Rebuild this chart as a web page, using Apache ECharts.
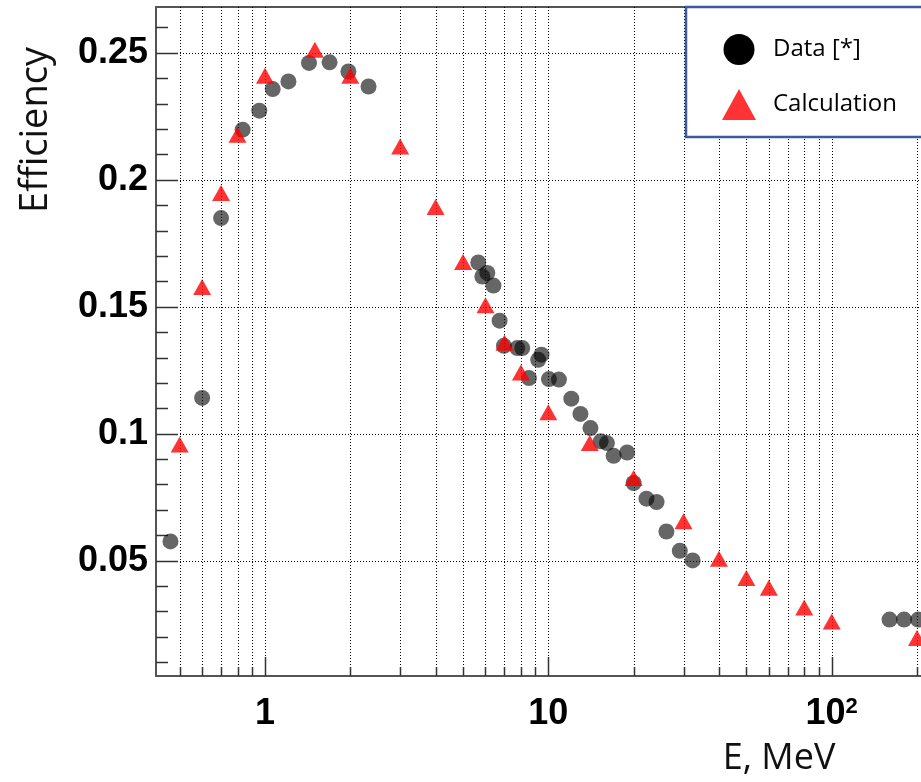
<!DOCTYPE html>
<html>
<head>
<meta charset="utf-8">
<script src="https://cdn.jsdelivr.net/npm/echarts@6/dist/echarts.min.js"></script>
<style>
  html, body { margin: 0; padding: 0; background: #fff; }
  #main { width: 921px; height: 782px; }
</style>
</head>
<body>
<div id="main"></div>
<script>
// measured data (circles)
var dataE = [0.464, 0.6, 0.7, 0.834, 0.955, 1.065, 1.21, 1.43, 1.69, 1.97, 2.32,
  5.66, 5.85, 6.09, 6.4, 6.73, 6.97, 7.77, 8.09, 8.54, 9.21, 9.46, 10.05, 10.9,
  12.05, 12.98, 14.08, 15.3, 16.1, 17.0, 18.97, 20.0, 22.2, 24.1, 26.1, 29.1, 32.3,
  160, 180, 202];
var dataEff = [0.0576, 0.1141, 0.1849, 0.2197, 0.2272, 0.2357, 0.2387, 0.2460, 0.2462, 0.2426, 0.2367,
  0.1674, 0.1619, 0.1633, 0.1583, 0.1445, 0.1346, 0.1337, 0.1337, 0.1219, 0.1291, 0.1311, 0.1215, 0.1213,
  0.1138, 0.1078, 0.1022, 0.0970, 0.0963, 0.0913, 0.0926, 0.0806, 0.0744, 0.0731, 0.0615, 0.0539, 0.0501,
  0.0268, 0.0268, 0.0268];

// calculation (triangles)
var calcE = [0.5, 0.6, 0.7, 0.8, 1, 1.5, 2, 3, 4, 5, 6, 7, 8, 10, 14, 20, 30, 40, 50, 60, 80, 100, 200];
var calcEff = [0.0957, 0.1578, 0.1948, 0.2177, 0.2409, 0.2512, 0.2409, 0.2131, 0.1893, 0.1676, 0.1506,
  0.1358, 0.1241, 0.1084, 0.0963, 0.0826, 0.0655, 0.0508, 0.0432, 0.0393, 0.0316, 0.0261, 0.0196];

// axes
var xMin = 0.4125, xMax = 206.6;
var yMin = 0.0046, yMax = 0.268;
var xGridValues = [0.5, 0.6, 0.7, 0.8, 0.9, 1, 2, 3, 4, 5, 6, 7, 8, 9, 10,
  20, 30, 40, 50, 60, 70, 80, 90, 100, 200];
var xLabelValues = [1, 10, 100];
var yTickValues = [0.01, 0.02, 0.03, 0.04, 0.05, 0.06, 0.07, 0.08, 0.09, 0.1,
  0.11, 0.12, 0.13, 0.14, 0.15, 0.16, 0.17, 0.18, 0.19, 0.2,
  0.21, 0.22, 0.23, 0.24, 0.25, 0.26];
var yLabelValues = [0.05, 0.1, 0.15, 0.2, 0.25];

var chart = echarts.init(document.getElementById('main'));

function isMajorY(v) {
  return yLabelValues.some(function (m) { return Math.abs(m - v) < 1e-9; });
}

// vertical dotted grid + bottom ticks
function renderXGrid(params, api) {
  var v = api.value(0);
  var cs = params.coordSys;
  var x = Math.round(api.coord([v, yMin])[0]) + 0.5;
  var bottom = cs.y + cs.height;
  var major = xLabelValues.indexOf(v) >= 0;
  return {
    type: 'group',
    children: [
      { type: 'line', shape: { x1: x, y1: cs.y, x2: x, y2: bottom },
        style: { stroke: '#000', lineWidth: 1, lineDash: [1, 2] } },
      { type: 'line', shape: { x1: x, y1: bottom, x2: x, y2: bottom - (major ? 19 : 9) },
        style: { stroke: '#333', lineWidth: 1.5 } }
    ]
  };
}

// horizontal dotted grid + left ticks
function renderYGrid(params, api) {
  var v = api.value(1);
  var cs = params.coordSys;
  var y = Math.round(api.coord([1, v])[1]) + 0.5;
  var major = isMajorY(v);
  var children = [
    { type: 'line', shape: { x1: cs.x, y1: y, x2: cs.x + (major ? 22 : 12), y2: y },
      style: { stroke: '#333', lineWidth: 1.5 } }
  ];
  if (major) {
    children.unshift({ type: 'line', shape: { x1: cs.x, y1: y, x2: cs.x + cs.width, y2: y },
      style: { stroke: '#000', lineWidth: 1, lineDash: [1, 2] } });
  }
  return { type: 'group', children: children };
}

var axisLineStyle = { show: true, lineStyle: { color: '#555', width: 2 } };

var option = {
  animation: false,
  backgroundColor: '#fff',
  grid: {
    left: 156, top: 7, right: 0, bottom: 106
  },
  legend: {
    orient: 'vertical',
    left: 686, top: 7,
    padding: [27, 90, 17, 36],
    itemWidth: 34, itemHeight: 31, itemGap: 24,
    backgroundColor: '#fff',
    borderColor: '#3c5a9c', borderWidth: 2.5,
    textStyle: { fontSize: 24, fontFamily: 'Open Sans', color: '#000', padding: [0, 0, 0, 12] },
    data: [
      { name: 'Data [*]', icon: 'circle', itemStyle: { color: '#000', opacity: 1 } },
      { name: 'Calculation', icon: 'triangle', itemStyle: { color: '#ff0000' } }
    ]
  },
  xAxis: [{
    type: 'log', logBase: 10, min: xMin, max: xMax,
    axisLine: axisLineStyle, axisTick: { show: false },
    splitLine: { show: false }, minorTick: { show: false }, minorSplitLine: { show: false },
    axisLabel: {
      customValues: xLabelValues,
      margin: 20,
      fontFamily: 'Liberation Sans', fontWeight: 'bold', fontSize: 36, color: '#000',
      formatter: function (v) {
        var p = Math.round(Math.log10(v));
        if (p < 2) return String(Math.round(v));
        return '{b|10}{s|' + p + '}';
      },
      rich: {
        b: { fontFamily: 'Liberation Sans', fontWeight: 'bold', fontSize: 36, color: '#000' },
        s: { fontFamily: 'Liberation Sans', fontWeight: 'bold', fontSize: 22, color: '#000',
          verticalAlign: 'top', padding: [0, 0, 10, 0] }
      }
    }
  }, {
    // top frame line only
    type: 'value', position: 'top', min: 0, max: 1,
    axisLine: axisLineStyle, axisTick: { show: false },
    axisLabel: { show: false }, splitLine: { show: false }
  }],
  yAxis: {
    type: 'value', min: yMin, max: yMax,
    axisLine: axisLineStyle, axisTick: { show: false }, splitLine: { show: false },
    axisLabel: {
      customValues: yLabelValues,
      margin: 8,
      fontFamily: 'Liberation Sans', fontWeight: 'bold', fontSize: 36, color: '#000',
      formatter: function (v) { return String(+v.toFixed(2)); }
    }
  },
  graphic: [
    { type: 'text', x: 36, y: 130, rotation: Math.PI / 2,
      style: { text: 'Efficiency', fontSize: 38, fontFamily: 'Open Sans', fill: '#111',
        align: 'center', verticalAlign: 'middle' } },
    { type: 'text', x: 779, y: 759,
      style: { text: 'E, MeV', fontSize: 36, fontFamily: 'Open Sans', fill: '#111',
        align: 'center', verticalAlign: 'middle' } }
  ],
  series: [
    {
      type: 'custom', name: 'xgrid', silent: true, z: 1,
      renderItem: renderXGrid,
      data: xGridValues.map(function (v) { return [v, yMin]; })
    },
    {
      type: 'custom', name: 'ygrid', silent: true, z: 1,
      renderItem: renderYGrid,
      data: yTickValues.map(function (v) { return [1, v]; })
    },
    {
      name: 'Data [*]', type: 'scatter', z: 3,
      symbol: 'circle', symbolSize: 16,
      itemStyle: { color: 'rgba(0,0,0,0.75)' },
      data: dataE.map(function (e, i) { return [e, dataEff[i]]; })
    },
    {
      name: 'Calculation', type: 'scatter', z: 4,
      symbol: 'triangle', symbolSize: [18, 16],
      itemStyle: { color: '#ff0000' },
      data: calcE.map(function (e, i) { return [e, calcEff[i]]; })
    }
  ]
};

chart.setOption(option);
</script>
</body>
</html>
